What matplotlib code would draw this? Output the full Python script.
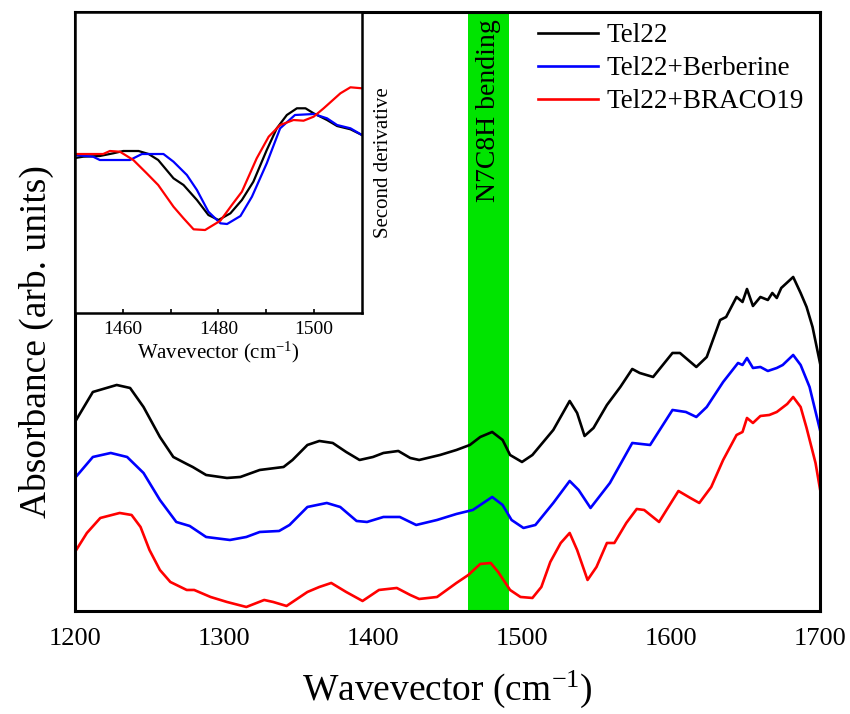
import numpy as np
import matplotlib
matplotlib.use('Agg')
import matplotlib.pyplot as plt

plt.rcParams['font.family'] = ['Liberation Serif', 'DejaVu Serif']
plt.rcParams['mathtext.fontset'] = 'custom'
plt.rcParams['mathtext.rm'] = 'Liberation Serif'
plt.rcParams['mathtext.default'] = 'rm'

# main spectra (arb. units, offset already included)
x_tel = [1200, 1212, 1228, 1237, 1246, 1257, 1266, 1275, 1279, 1288, 1302, 1311, 1324, 1340, 1346,
         1356, 1364, 1373, 1382, 1391, 1400, 1407, 1417, 1425, 1431, 1445, 1456, 1465, 1472, 1480,
         1487, 1492, 1500, 1507, 1521, 1532, 1537, 1542, 1548, 1557, 1566, 1574, 1579, 1588, 1601,
         1606, 1617, 1624, 1633, 1637, 1644, 1648, 1651, 1655, 1660, 1665, 1668, 1671, 1674, 1682,
         1687, 1691, 1695, 1700]
y_tel = [189, 219, 226, 223, 204, 174, 154, 147, 144, 136, 133, 134, 141, 144, 151,
         166, 170, 168, 159, 151, 154, 158, 160, 153, 151, 156, 161, 166, 174, 179,
         171, 156, 149, 156, 181, 210, 198, 175, 183, 206, 224, 242, 238, 234, 258,
         258, 244, 254, 291, 294, 314, 309, 322, 305, 314, 311, 318, 313, 323, 334,
         318, 304, 284, 248]

x_ber = [1200, 1212, 1224, 1235, 1246, 1257, 1268, 1277, 1288, 1304, 1315, 1324, 1337, 1344, 1356,
         1369, 1378, 1389, 1396, 1407, 1418, 1429, 1443, 1456, 1467, 1480, 1487, 1493, 1501, 1509,
         1521, 1532, 1538, 1546, 1559, 1574, 1586, 1601, 1610, 1617, 1624, 1635, 1645, 1648, 1651,
         1655, 1660, 1665, 1671, 1675, 1682, 1687, 1693, 1700]
y_ber = [133, 154, 158, 154, 138, 111, 89, 85, 74, 71, 74, 79, 80, 86, 104,
         108, 104, 90, 89, 94, 94, 86, 91, 97, 101, 114, 106, 91, 83, 86,
         108, 130, 121, 103, 128, 168, 166, 201, 199, 194, 204, 229, 248, 246, 253,
         243, 244, 240, 243, 246, 256, 246, 224, 181]

x_bra = [1200, 1208, 1217, 1230, 1238, 1244, 1250, 1257, 1264, 1275, 1280, 1291, 1302, 1315, 1327,
         1333, 1342, 1356, 1364, 1372, 1382, 1393, 1404, 1416, 1425, 1431, 1443, 1456, 1464, 1472,
         1479, 1484, 1492, 1499, 1507, 1513, 1519, 1526, 1532, 1537, 1544, 1550, 1557, 1562, 1570,
         1577, 1582, 1592, 1597, 1605, 1613, 1619, 1627, 1635, 1644, 1648, 1651, 1655, 1660, 1666,
         1671, 1678, 1682, 1687, 1691, 1697, 1700]
y_bra = [59, 78, 93, 98, 96, 84, 61, 41, 29, 21, 21, 14, 9, 4, 11,
         9, 5, 19, 24, 28, 19, 10, 21, 23, 16, 12, 14, 28, 36, 47,
         48, 39, 21, 14, 13, 24, 49, 68, 78, 61, 31, 44, 68, 68, 88,
         102, 101, 89, 101, 120, 113, 108, 124, 151, 176, 179, 193, 188, 195, 196,
         199, 207, 214, 204, 183, 148, 122]

# inset: second derivative
xi_tel = [1450, 1451.7, 1455.2, 1458, 1460.1, 1463.3, 1465.4, 1467.4, 1470.6, 1472.7, 1475.5, 1477.9, 1480.0,
          1482.5, 1484.9, 1487.3, 1490.1, 1492.2, 1494.3, 1496.4, 1498.2, 1499.9, 1502.7, 1504.8, 1507.6, 1510]
di_tel = [0, 0.13, 0.2, 0.47, 0.7, 0.7, 0.4, -0.2, -2.03, -2.7, -4.2, -5.7, -6.2,
          -5.53, -4.2, -2.37, 0.8, 2.97, 4.3, 4.97, 4.97, 4.47, 3.8, 3.2, 2.87, 2.3]
xi_ber = [1450, 1453.8, 1455.2, 1461.5, 1464.0, 1468.5, 1470.6, 1473.4, 1475.5, 1477.9, 1480.4,
          1481.8, 1484.6, 1487.0, 1490.1, 1492.9, 1496.0, 1499.9, 1502.7, 1504.8, 1507.6, 1510]
di_ber = [0.3, 0.13, -0.2, -0.2, 0.4, 0.4, -0.37, -1.7, -3.2, -5.37, -6.53,
          -6.6, -5.8, -3.87, -0.53, 2.97, 4.3, 4.4, 3.97, 3.3, 2.97, 2.3]
xi_bra = [1450, 1455.9, 1457.3, 1459.4, 1462.2, 1465.0, 1467.4, 1470.6, 1472.7, 1474.8, 1477.2, 1480.4,
          1482.8, 1484.9, 1488.0, 1490.5, 1492.9, 1495.7, 1497.8, 1499.9, 1502.0, 1505.5, 1507.6, 1510]
di_bra = [0.4, 0.4, 0.7, 0.63, -0.2, -1.53, -2.7, -4.87, -6.03, -7.13, -7.2, -6.27,
          -4.7, -3.37, -0.03, 2.13, 3.3, 3.8, 3.73, 4.13, 4.97, 6.47, 7.07, 6.97]

labels = ['Tel22', 'Tel22+Berberine', 'Tel22+BRACO19']
colors = ['black', 'blue', 'red']
band = (1464, 1491)

fig = plt.figure(figsize=(8.5, 7.14), dpi=100)
ax = fig.add_axes([0.0882, 0.1443, 0.8765, 0.8389])

ax.axvspan(band[0], band[1], color='#00e400', lw=0, zorder=0)
for xs, ys, c, lab in zip([x_tel, x_ber, x_bra], [y_tel, y_ber, y_bra], colors, labels):
    ax.plot(xs, ys, color=c, lw=1.9, label=lab)

ax.set_xlim(1200, 1700)
ax.set_ylim(0, 599)
ax.set_xticks([1200, 1300, 1400, 1500, 1600, 1700])
ax.set_yticks([])
ax.tick_params(axis='x', length=0, pad=12, labelsize=19)
for s in ax.spines.values():
    s.set_linewidth(2.2)
ax.set_xlabel('Wavevector (cm$^{-1}$)', fontsize=27, labelpad=14)
ax.set_ylabel('Absorbance (arb. units)', fontsize=27)
ax.yaxis.set_label_coords(-0.028, 0.45)

ax.text(0.5 * (band[0] + band[1]), 592, 'N7C8H bending', rotation=90, ha='center', va='top',
        fontsize=20)

ax.legend(loc='upper left', bbox_to_anchor=(0.61, 0.995), frameon=False, fontsize=19.5,
          handlelength=2.25, handletextpad=0.3, labelspacing=0.3, borderaxespad=0, borderpad=0.3)

# inset
ins = fig.add_axes([0.0882, 0.5616, 0.3376, 0.4216])
for xs, ds, c in zip([xi_tel, xi_ber, xi_bra], [di_tel, di_ber, di_bra], colors):
    ins.plot(xs, ds, color=c, lw=1.6)
ins.set_xlim(1450, 1510)
ins.set_ylim(-15.5, 14.6)
ins.set_xticks([1460, 1480, 1500])
ins.set_xticks([1470, 1490], minor=True)
ins.set_yticks([])
ins.tick_params(axis='x', which='both', direction='in', length=3, width=1.2, pad=6, labelsize=14)
for s in ins.spines.values():
    s.set_linewidth(1.8)
ins.set_xlabel('Wavevector (cm$^{-1}$)', fontsize=15, labelpad=1)
ins.yaxis.set_label_position('right')
ins.set_ylabel('Second derivative', fontsize=15, labelpad=9)

fig.savefig('out.png', dpi=100)
